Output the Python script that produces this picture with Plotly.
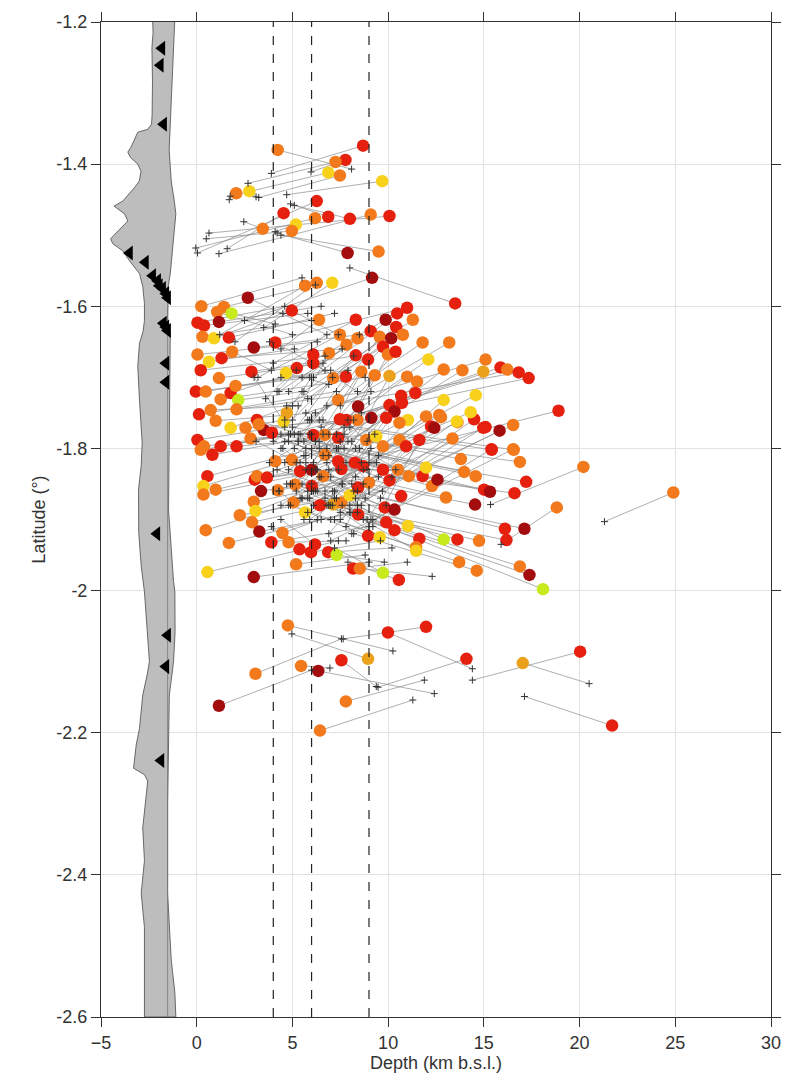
import plotly.graph_objects as go

# ---------------- topography profile (depth km, latitude) ----------------
topo_left_x = [-2.30, -2.28, -2.34, -2.31, -2.33, -2.36, -2.56, -3.08, -3.43, -3.60, -3.48, -3.08, -2.91,
               -3.00, -3.25, -3.86, -4.32, -4.12, -3.77, -3.60, -4.50, -4.38, -3.86, -3.51, -2.99, -2.82,
               -2.73, -2.73, -2.80, -2.99, -3.08, -2.99, -2.85, -2.90, -3.04, -3.03, -2.90, -2.73, -2.56,
               -2.47, -2.60, -2.82, -2.99, -3.16, -3.30, -2.73, -2.56, -2.82, -2.73, -2.90, -2.73, -2.73,
               -2.73, -2.73]
topo_left_y = [-1.200, -1.215, -1.236, -1.284, -1.330, -1.344, -1.351, -1.355, -1.376, -1.383, -1.390, -1.400,
               -1.410, -1.424, -1.433, -1.452, -1.459, -1.463, -1.470, -1.480, -1.505, -1.512, -1.522, -1.536,
               -1.554, -1.572, -1.596, -1.620, -1.635, -1.652, -1.684, -1.732, -1.792, -1.824, -1.858, -1.918,
               -1.965, -2.002, -2.058, -2.100, -2.120, -2.147, -2.194, -2.217, -2.250, -2.259, -2.268, -2.334,
               -2.380, -2.426, -2.474, -2.520, -2.566, -2.600]
topo_right_x = [-1.09, -1.14, -1.33, -1.52, -1.52, -1.43, -1.21, -1.13, -1.14, -1.21, -1.47, -1.43, -1.38,
                -1.52, -1.49, -1.38, -1.09, -1.17, -1.33, -1.44, -1.35, -1.15]
topo_right_y = [-2.600, -2.566, -2.520, -2.426, -2.300, -2.147, -2.100, -2.058, -2.002, -1.987, -1.887, -1.732,
                -1.638, -1.630, -1.572, -1.554, -1.470, -1.452, -1.424, -1.380, -1.330, -1.200]
coast_x = [-1.52, -1.52]
coast_y = [-1.60, -2.60]

# ---------------- seismic stations ----------------
sta_x = [-1.82, -1.90, -1.73, -3.51, -2.68, -2.30, -2.04, -1.95, -1.78, -1.61, -1.52, -1.74, -1.61, -1.52,
         -1.61, -1.61, -2.08, -1.52, -1.61, -1.87]
sta_y = [-1.237, -1.261, -1.344, -1.525, -1.538, -1.557, -1.564, -1.571, -1.575, -1.582, -1.588, -1.624,
         -1.629, -1.634, -1.680, -1.707, -1.920, -2.063, -2.107, -2.239]

# ---------------- reference depths (dashed) ----------------
ref_depths = [4, 6, 9]

# ---------------- relocated events ----------------
new_depth = [4.23, 8.69, 7.77, 7.25, 6.87, 7.48, 9.69, 2.06, 2.75, 6.27, 4.54, 6.18, 6.87, 8.00, 9.09, 10.07,
             3.45, 5.18, 4.97, 7.88, 9.50, 9.16, 13.50, 5.66, 6.27, 7.08, 2.67,
             0.24, 1.42, 1.07, 1.82, 0.04, 0.38, 1.16, 4.97, 6.39, 8.31, 9.87, 10.47, 10.99, 11.29, 0.30, 0.90,
             1.68, 4.10, 2.98, 7.48, 7.82, 8.40, 9.09, 9.56, 10.16, 10.42, 10.77, 11.80, 13.19, 0.04, 0.64,
             1.30, 1.85, 0.21, 2.86, 6.09, 6.09, 5.23, 4.66, 6.91, 8.31, 8.95, 9.73, 9.99, 10.39, 12.10, 12.90,
             13.88, 14.97, 15.09, 15.87, 16.22, 16.82, 17.34, 7.79, 7.13, 8.60, 9.30, 10.07, 10.99, 11.51,
             -0.05, 0.47, 1.25, 1.77, 1.16, 2.03, 2.17, 10.68, 10.72, 11.42, 12.90, 14.58, 7.39, 8.43, 10.07,
             10.33, 0.12, 0.73, 2.08, 0.99, 9.12, 7.48, 7.82, 8.40, 9.90, 11.03, 10.59, 11.98, 12.76, 13.62,
             14.49, 12.24, 12.41, 1.77, 2.55, 3.15, 3.50, 3.93, 3.24, 0.04, 0.38, 1.25, 2.08, 2.81, 6.09, 6.70,
             7.39, 8.86, 9.38, 9.73, 10.59, 11.63, 10.94, 13.36, 14.97, 4.54, 4.71, 14.31, 15.09, 15.82, 16.53,
             18.90, 13.59, 12.67, 15.40, 16.53,
             0.56, 0.35, 0.35, 0.99, 3.03, 3.15, 3.67, 3.36, 4.24, 2.98, 3.07, 2.25, 2.89, 3.27, 0.47, 1.68,
             3.90, 4.48, 4.80, 5.37, 5.97, 6.18, 6.87, 7.31, 5.19, 0.56, 2.98, 8.17, 8.52, 9.73, 10.56, 4.10,
             4.97, 5.40, 6.01, 6.01, 6.70, 6.61, 5.14, 5.06, 5.66, 6.44, 7.39, 7.56, 7.13, 7.56, 7.99, 8.26,
             8.69, 8.43, 9.00, 8.43, 8.95, 9.56, 9.73, 10.07, 10.51, 9.82, 10.33, 9.90, 10.33, 10.68, 11.03,
             11.08, 11.63, 11.46, 11.46, 11.80, 11.98, 12.29, 12.58, 13.02, 12.90, 13.62, 13.71, 13.80, 13.97,
             14.57, 14.54, 14.75, 14.63, 15.01, 15.32, 15.41, 16.56, 16.88, 17.21, 16.60, 18.81, 16.10, 17.12,
             16.18, 16.88, 17.38, 18.09, 20.20, 0.82, 0.21, 24.90,
             4.76, 9.99, 11.98, 8.95, 3.07, 5.45, 6.35, 7.56, 14.09, 1.16, 7.79, 6.44, 17.03, 20.03, 21.70]
new_lat = [-1.380, -1.374, -1.394, -1.397, -1.412, -1.416, -1.424, -1.441, -1.438, -1.452, -1.469, -1.476,
           -1.474, -1.477, -1.471, -1.473, -1.491, -1.485, -1.494, -1.525, -1.523, -1.560, -1.596, -1.571,
           -1.567, -1.567, -1.588,
           -1.600, -1.601, -1.608, -1.610, -1.623, -1.627, -1.622, -1.606, -1.619, -1.619, -1.619, -1.610,
           -1.602, -1.619, -1.643, -1.645, -1.644, -1.651, -1.658, -1.640, -1.654, -1.645, -1.635, -1.643,
           -1.645, -1.629, -1.640, -1.651, -1.651, -1.668, -1.678, -1.673, -1.664, -1.690, -1.692, -1.668,
           -1.680, -1.687, -1.694, -1.666, -1.669, -1.675, -1.657, -1.668, -1.664, -1.675, -1.689, -1.690,
           -1.692, -1.675, -1.686, -1.689, -1.693, -1.701, -1.699, -1.701, -1.692, -1.697, -1.698, -1.699,
           -1.706, -1.720, -1.720, -1.731, -1.722, -1.701, -1.712, -1.732, -1.726, -1.736, -1.722, -1.732,
           -1.725, -1.732, -1.741, -1.739, -1.748, -1.752, -1.746, -1.745, -1.761, -1.757, -1.759, -1.760,
           -1.760, -1.757, -1.760, -1.764, -1.755, -1.756, -1.763, -1.759, -1.769, -1.771, -1.771, -1.771,
           -1.760, -1.774, -1.778, -1.766, -1.788, -1.797, -1.797, -1.797, -1.786, -1.781, -1.781, -1.785,
           -1.788, -1.783, -1.797, -1.788, -1.788, -1.797, -1.786, -1.771, -1.762, -1.750, -1.749, -1.770,
           -1.775, -1.767, -1.747, -1.762, -1.753, -1.801, -1.801,
           -1.839, -1.853, -1.865, -1.858, -1.844, -1.839, -1.841, -1.860, -1.859, -1.875, -1.888, -1.894,
           -1.904, -1.917, -1.915, -1.933, -1.932, -1.919, -1.932, -1.942, -1.946, -1.935, -1.946, -1.950,
           -1.963, -1.974, -1.981, -1.969, -1.969, -1.975, -1.985, -1.818, -1.816, -1.832, -1.830, -1.853,
           -1.809, -1.839, -1.851, -1.876, -1.890, -1.880, -1.818, -1.829, -1.879, -1.876, -1.866, -1.820,
           -1.825, -1.855, -1.848, -1.893, -1.923, -1.925, -1.830, -1.845, -1.830, -1.883, -1.886, -1.904,
           -1.915, -1.867, -1.909, -1.839, -1.927, -1.939, -1.944, -1.839, -1.827, -1.853, -1.844, -1.869,
           -1.928, -1.928, -1.960, -1.815, -1.833, -1.839, -1.879, -1.930, -1.972, -1.858, -1.861, -1.802,
           -1.802, -1.819, -1.847, -1.863, -1.883, -1.913, -1.913, -1.929, -1.966, -1.978, -1.998, -1.826,
           -1.809, -1.802, -1.862,
           -2.049, -2.059, -2.051, -2.096, -2.117, -2.106, -2.113, -2.098, -2.096, -2.162, -2.156, -2.197,
           -2.102, -2.086, -2.190]
old_depth = [8.09, 3.90, 5.97, 2.68, 1.75, 3.24, 4.70, 1.70, 3.10, 0.04, 1.59, -0.05, 4.90, 5.10, 1.16, 0.64,
             2.46, 4.10, 0.50, 4.20, 4.40, 2.50, 8.00, 1.20, 2.00, 3.50, 6.80,
             5.50, 6.20, 5.00, 4.10, 4.60, 5.80, 6.50, 7.40, 4.40, 4.00, 5.20, 6.10, 3.80, 5.60, 6.00, 4.50,
             7.20, 6.70, 8.50, 3.20, 4.80, 5.50, 4.30, 6.40, 5.80, 7.10, 4.70, 5.90, 7.50, 6.30, 5.10, 7.60,
             3.90, 6.70, 8.20, 4.20, 8.40, 3.60, 6.90, 5.00, 4.60, 6.20, 5.40, 7.70, 6.00, 6.60, 8.10, 7.30,
             6.50, 5.70, 7.90, 4.90, 6.80, 8.60, 5.30, 4.40, 6.10, 6.90, 7.40, 5.60, 8.30, 5.90, 7.00, 8.80,
             4.40, 6.60, 7.90, 5.50, 5.20, 7.60, 4.80, 8.70, 6.40, 4.00, 5.70, 6.20, 4.70, 7.30, 5.30, 9.10,
             6.20, 5.00, 4.60, 9.10, 5.80, 6.80, 7.20, 4.30, 6.10, 8.00, 5.40, 7.00, 8.90, 4.90, 5.00, 8.20,
             6.40, 5.70, 7.30, 4.60, 6.60, 8.00, 4.80, 9.30, 5.90, 3.80, 8.70, 5.20, 6.30, 4.40, 7.80, 5.60,
             9.20, 6.90, 7.50, 8.40, 3.00, 6.00, 5.50, 6.70, 8.80, 7.60, 9.50, 5.90, 6.70, 8.10, 7.00,
             7.50, 5.70, 8.60, 6.80, 9.40, 5.40, 6.20, 8.30, 6.00, 7.60, 5.80, 9.70, 6.90, 8.40, 7.10, 8.00,
             9.00, 6.50, 7.80, 3.90, 9.60, 4.40, 10.20, 9.80, 8.80, 7.40, 9.00, 11.00, 12.30, 7.20, 7.90, 7.70,
             3.10, 8.90, 4.50, 9.50, 4.80, 8.20, 7.30, 8.60, 4.30, 9.90, 5.30, 10.40, 4.90, 9.10, 6.30, 6.00,
             4.60, 5.70, 7.40, 6.10, 5.80, 7.00, 6.80, 5.10, 7.90, 6.50, 4.20, 7.20, 5.50, 8.10, 6.30,
             5.30, 7.50, 4.80, 8.70, 6.40, 4.40, 7.80, 5.60, 6.90, 8.30, 5.90, 7.20, 5.00, 8.50,
             6.20, 7.00, 5.50, 8.20, 9.00, 6.60, 7.70, 5.80, 8.90, 7.30, 10.20, 15.90, 8.40, 9.60,
             7.10, 9.20, 6.90, 8.00, 15.35, 6.90, 5.10, 21.30,
             10.25, 14.40, 7.65, 4.97, 7.56, 6.96, 12.41, 9.38, 9.47, 6.00, 11.89, 11.29, 20.50, 14.40, 17.12]
old_lat = [-1.407, -1.413, -1.411, -1.427, -1.445, -1.447, -1.443, -1.450, -1.446, -1.525, -1.519, -1.518,
           -1.456, -1.458, -1.526, -1.497, -1.481, -1.495, -1.505, -1.497, -1.500, -1.620, -1.546, -1.640,
           -1.650, -1.630, -1.640,
           -1.560, -1.570, -1.640, -1.625, -1.600, -1.610, -1.600, -1.640, -1.660, -1.680, -1.690, -1.700,
           -1.650, -1.720, -1.620, -1.610, -1.610, -1.690, -1.640, -1.700, -1.720, -1.700, -1.720, -1.760,
           -1.730, -1.700, -1.740, -1.760, -1.740, -1.650, -1.660, -1.660, -1.690, -1.670, -1.670, -1.720,
           -1.720, -1.730, -1.710, -1.760, -1.770, -1.790, -1.780, -1.780, -1.800, -1.780, -1.790, -1.800,
           -1.770, -1.750, -1.760, -1.780, -1.740, -1.750, -1.790, -1.800, -1.820, -1.810, -1.830, -1.810,
           -1.800, -1.700, -1.690, -1.700, -1.700, -1.680, -1.690, -1.720, -1.820, -1.850, -1.830, -1.830,
           -1.840, -1.790, -1.830, -1.860, -1.850, -1.720, -1.740, -1.720, -1.750, -1.850, -1.820, -1.800,
           -1.870, -1.880, -1.870, -1.860, -1.880, -1.880, -1.870, -1.900, -1.900, -1.880, -1.740, -1.760,
           -1.790, -1.800, -1.780, -1.760, -1.760, -1.770, -1.780, -1.780, -1.780, -1.820, -1.850, -1.860,
           -1.900, -1.880, -1.910, -1.900, -1.910, -1.920, -1.900, -1.880, -1.700, -1.700, -1.850, -1.870,
           -1.870, -1.880, -1.810, -1.900, -1.860, -1.920, -1.930,
           -1.790, -1.810, -1.820, -1.820, -1.820, -1.820, -1.830, -1.840, -1.850, -1.850, -1.860, -1.860,
           -1.880, -1.890, -1.860, -1.890, -1.910, -1.900, -1.930, -1.910, -1.930, -1.900, -1.940, -1.960,
           -1.950, -1.930, -1.960, -1.960, -1.980, -1.940, -1.960, -1.800, -1.790, -1.830, -1.800, -1.840,
           -1.790, -1.860, -1.870, -1.880, -1.860, -1.880, -1.780, -1.830, -1.850, -1.900, -1.830, -1.780,
           -1.790, -1.820, -1.800, -1.860, -1.890, -1.880, -1.800, -1.800, -1.790, -1.840, -1.830, -1.860,
           -1.870, -1.850, -1.860, -1.790, -1.890, -1.880, -1.900, -1.800, -1.780, -1.820, -1.790, -1.830,
           -1.870, -1.870, -1.900, -1.770, -1.800, -1.790, -1.840, -1.870, -1.920, -1.820, -1.810, -1.770,
           -1.760, -1.790, -1.800, -1.840, -1.935, -1.860, -1.870, -1.880, -1.900, -1.880, -1.890, -1.879,
           -1.780, -1.780, -1.903,
           -2.085, -2.110, -2.068, -2.061, -2.068, -2.109, -2.145, -2.135, -2.136, -2.112, -2.126, -2.154,
           -2.131, -2.126, -2.149]
# event colour class: G yellow-green, Y yellow, A amber, O orange, R red, D dark red
event_class = ("ORROYOYOYRRORRORO" + "YODODROOYD"
               + "OOOGRRDRORDRRO" + "OYRRDOOORODROOO" + "OYRORRRRRYORRRORYOOAORORR" + "ROOOAOO"
               + "ROOROOG" + "RRRYYODRD" + "ROOODRRORYOOOORRD" + "YORDRO" + "RORROROROYOORROR"
               + "YAYRDORYORO"
               + "RYOORORDOOYOODOO" + "ROORRRRGOYDROGR" + "OORDROOOOYR" + "RRAOYRRRORRY"
               + "RRORDRRRYOROYRY" + "ODOGROOOODOORDROORR" + "ORDRODGOROO"
               + "ORRAOODRRDOOARR")
class_colors = {"G": "#C6EA1E", "Y": "#F7D11A", "A": "#EBA11C", "O": "#F27A1C",
                "R": "#E5200E", "D": "#A30D0D"}

n = min(len(new_depth), len(new_lat), len(old_depth), len(old_lat))
cls = (event_class + "O" * n)[:n]

FONT = "Liberation Sans, Arial, Helvetica, sans-serif"

fig = go.Figure()

# topography
fig.add_trace(go.Scatter(x=topo_left_x + topo_right_x, y=topo_left_y + topo_right_y,
                         mode="lines", fill="toself", fillcolor="#BDBDBD",
                         line=dict(color="#4A4A4A", width=0.8), hoverinfo="skip", showlegend=False))
fig.add_trace(go.Scatter(x=coast_x, y=coast_y, mode="lines",
                         line=dict(color="#777777", width=0.8), showlegend=False))

# relocation vectors
lx, ly = [], []
for i in range(n):
    lx += [new_depth[i], old_depth[i], None]
    ly += [new_lat[i], old_lat[i], None]
fig.add_trace(go.Scatter(x=lx, y=ly, mode="lines", line=dict(color="#8C8C8C", width=0.7),
                         hoverinfo="skip", showlegend=False))

# relocated events
fig.add_trace(go.Scatter(x=new_depth[:n], y=new_lat[:n], mode="markers",
                         marker=dict(size=12.5, color=[class_colors[c] for c in cls],
                                     line=dict(width=0)),
                         showlegend=False))
# original locations
fig.add_trace(go.Scatter(x=old_depth[:n], y=old_lat[:n], mode="markers",
                         marker=dict(symbol="cross-thin", size=5, line=dict(color="#333333", width=1)),
                         showlegend=False))

# stations
fig.add_trace(go.Scatter(x=sta_x, y=sta_y, mode="markers",
                         marker=dict(symbol="triangle-left", size=13, color="black"),
                         showlegend=False))

for d in ref_depths:
    fig.add_shape(type="line", x0=d, x1=d, y0=-2.6, y1=-1.2, xref="x", yref="y",
                  line=dict(color="#222222", width=1.2, dash="dash"))

axis_common = dict(showline=True, linecolor="#333333", linewidth=1, mirror="allticks",
                   ticks="outside", ticklen=9, tickcolor="#333333", tickwidth=1,
                   showgrid=True, gridcolor="#E2E2E2", gridwidth=1, zeroline=False,
                   tickfont=dict(family=FONT, size=18, color="#333333"))
fig.update_xaxes(range=[-5, 30], tickvals=[-5, 0, 5, 10, 15, 20, 25, 30],
                 title=dict(text="Depth (km b.s.l.)", standoff=4,
                            font=dict(family=FONT, size=18, color="#333333")),
                 **axis_common)
fig.update_yaxes(range=[-2.6, -1.2], tickvals=[-2.6, -2.4, -2.2, -2.0, -1.8, -1.6, -1.4, -1.2],
                 ticktext=["-2.6", "-2.4", "-2.2", "-2", "-1.8", "-1.6", "-1.4", "-1.2"],
                 title=dict(text="Latitude (°)", standoff=6,
                            font=dict(family=FONT, size=18, color="#333333")),
                 **axis_common)
fig.update_layout(width=793, height=1085, margin=dict(l=101, r=15, t=16, b=68),
                  plot_bgcolor="white", paper_bgcolor="white", showlegend=False)

fig.write_html("out.html", config={"displayModeBar": False},
               post_script="document.body.style.margin='0px';")
